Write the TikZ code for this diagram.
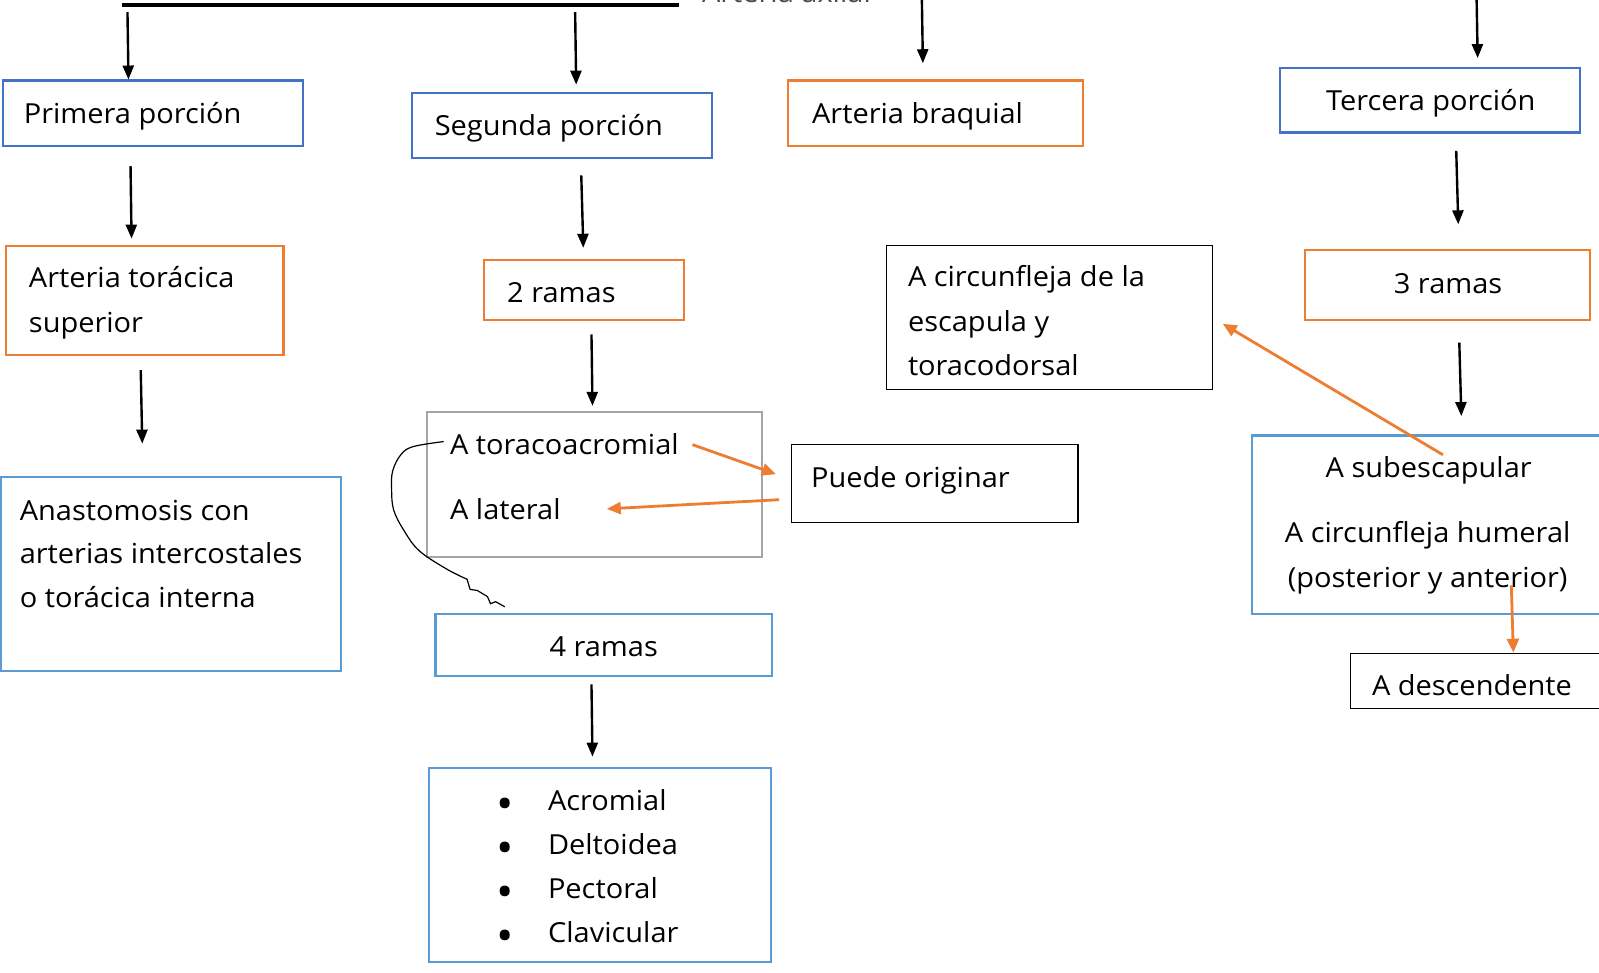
\documentclass[tikz,border=0pt]{standalone}
\usepackage{fontspec}
\setmainfont{Open Sans}[FakeStretch=1.05]
\usetikzlibrary{arrows.meta,calc}
\definecolor{blueD}{HTML}{4472C4}
\definecolor{blueL}{HTML}{5B9BD5}
\definecolor{orangeC}{HTML}{ED7D31}
\definecolor{grayC}{HTML}{A5A5A5}
\begin{document}
\begin{tikzpicture}[x=0.5099pt,y=-0.5099pt,
  box/.style={draw=#1, line width=1.1pt, inner sep=0pt, outer sep=0pt},
  bbox/.style={draw=black, line width=0.6pt, inner sep=0pt, outer sep=0pt},
  sz/.style 2 args={minimum width=#1*0.5099pt, minimum height=#2*0.5099pt},
  txt/.style={anchor=base west, inner sep=0pt, font=\fontsize{13.8}{16}\selectfont},
  ctxt/.style={anchor=base, inner sep=0pt, font=\fontsize{13.8}{16}\selectfont},
  arr/.style={line width=1.2pt, -{Triangle[length=7pt,width=5.5pt]}},
  oarr/.style={draw=orangeC, line width=1.4pt, -{Triangle[length=7pt,width=6pt]}}]
\useasboundingbox (0,0) rectangle (1568,954);

% title (cut off at the top)
\node[txt, text=black!70] (title) at (688,2) {Arteria axilar};
\coordinate (topL) at (120,5);
\coordinate (topR) at (666,5);
\draw[line width=1.6pt] (topL) -- (topR);

% boxes
\node[box=blueD, sz={294}{64}] (prim) at (150,111) {};
\node[box=blueD, sz={294}{64}] (seg) at (551,123) {};
\node[box=orangeC, sz={289}{64}] (braq) at (917.5,111) {};
\node[box=blueD, sz={294}{63}] (terc) at (1402,98.5) {};
\node[box=orangeC, sz={272}{107}] (tsup) at (142,294.5) {};
\node[box=orangeC, sz={196}{59}] (dos) at (573,284.5) {};
\node[bbox, sz={320}{141}] (circ) at (1029,311.5) {};
\node[box=orangeC, sz={279}{69}] (tres) at (1419.5,279.5) {};
\node[box=grayC, sz={328}{142}] (tora) at (583,475) {};
\node[bbox, sz={281}{76}] (puede) at (916.5,474) {};
\node[box=blueL, sz={372}{175}] (subesc) at (1414,514.5) {};
\node[bbox, sz={276}{54}] (desc) at (1462,668) {};
\node[box=blueL, sz={333}{190}] (anast) at (167.5,563) {};
\node[box=blueL, sz={330}{61}] (cuatro) at (592,632.5) {};
\node[box=blueL, sz={335}{190}] (list) at (588.5,848) {};

% texts
\node[txt] (primT) at (23,121) {Primera porción};
\node[txt] (segT) at (426,133) {Segunda porción};
\node[txt] (braqT) at (796,121) {Arteria braquial};
\node[ctxt] (tercT) at (1403,108) {Tercera porción};
\node[txt] (tsupA) at (28,282) {Arteria torácica};
\node[txt] (tsupB) at (28,326) {superior};
\node[txt] (dosT) at (497,297) {2 ramas};
\node[txt] (circA) at (890,281) {A circunfleja de la};
\node[txt] (circB) at (890,325) {escapula y};
\node[txt] (circC) at (890,368) {toracodorsal};
\node[ctxt] (tresT) at (1420,288) {3 ramas};
\node[txt] (toraA) at (441,446) {A toracoacromial};
\node[txt] (toraB) at (441,509) {A lateral};
\node[txt] (puedeT) at (795,478) {Puede originar};
\node[ctxt] (subA) at (1401,468) {A subescapular};
\node[ctxt] (subB) at (1400,532) {A circunfleja humeral};
\node[ctxt] (subC) at (1400,576) {(posterior y anterior)};
\node[txt] (descT) at (1345,682) {A descendente};
\node[txt] (anA) at (19,510) {Anastomosis con};
\node[txt] (anB) at (19,553) {arterias intercostales};
\node[txt] (anC) at (19,596) {o torácica interna};
\node[ctxt] (cuatroT) at (592,644) {4 ramas};
\foreach \i/\t/\yy in {1/Acromial/795, 2/Deltoidea/838, 3/Pectoral/881, 4/Clavicular/924}{
  \node[ctxt, font=\fontsize{22}{22}\selectfont] (bul\i) at (495,\yy+9) {\textbullet};
  \node[txt] (it\i) at (537,\yy) {\t};
}

% black arrows
\coordinate (a1) at (125,12);
\coordinate (a2) at (564,12);
\coordinate (a3) at (904,0);
\coordinate (a4) at (1448,0);
\draw[arr] (a1) -- ([shift={(-24,-1)}]prim.north);
\draw[arr] (a2) -- ([shift={(14,-8)}]seg.north);
\draw[arr] (a3) -- ([shift={(-12.5,-17)}]braq.north);
\draw[arr] (a4) -- ([shift={(47,-10)}]terc.north);
\draw[arr] ([shift={(-22,20)}]prim.south) -- ([shift={(-13,-7)}]tsup.north);
\draw[arr] ([shift={(19,17)}]seg.south) -- ([shift={(-1,-12)}]dos.north);
\draw[arr] ([shift={(7,14)}]dos.south) -- ([shift={(-2,-6)}]tora.north);
\draw[arr] ([shift={(-4,15)}]tsup.south) -- ([shift={(-28,-33)}]anast.north);
\draw[arr] ([shift={(26,18)}]terc.south) -- ([shift={(10.5,-25)}]tres.north);
\draw[arr] ([shift={(11.5,22)}]tres.south) -- ([shift={(19,-19)}]subesc.north);
\draw[arr] ([shift={(-12,8)}]cuatro.south) -- ([shift={(-7.5,-11)}]list.north);

% orange arrows
\draw[oarr] ([shift={(96,-39)}]tora.center) -- ([shift={(-15,-9)}]puede.west);
\draw[oarr] ([shift={(-12,16)}]puede.west) -- ([shift={(12,24)}]tora.center);
\draw[oarr] ([shift={(1,19)}]subesc.north) -- ([shift={(10,6)}]circ.east);
\draw[oarr] ([shift={(68,-28)}]subesc.south) -- ([shift={(22,-1)}]desc.north);

% hand-drawn curve
\draw[line width=0.6pt] plot[smooth, tension=0.6] coordinates {([xshift=-3pt]toraA.west |- 0,433) (405,438) (393,446) (385,462) (384,480) (386,500) (396,520) (411,540) (438,558) (458,568)}
  -- (461,578) -- (468,579) -- (478,585) -- (481,592) -- (486,590) -- (495,595);
\end{tikzpicture}
\end{document}
